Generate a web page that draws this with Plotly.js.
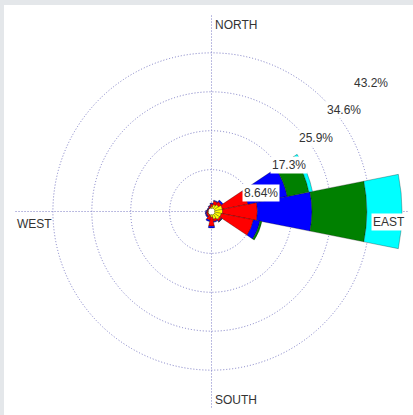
<!DOCTYPE html>
<html>
<head>
<meta charset="utf-8">
<script src="https://cdn.plot.ly/plotly-3.0.1.min.js"></script>
<style>
html,body{margin:0;padding:0;background:#ffffff;}
#chart{width:413px;height:415px;}
</style>
</head>
<body>
<div id="chart"></div>
<script>
// Direction bins (bearing, degrees clockwise from north)
const directions = [0, 22.5, 45, 67.5, 90, 112.5, 135, 157.5, 180, 202.5, 225, 247.5, 270, 292.5, 315, 337.5];
// Frequency (%) per speed class, stacked from the centre outwards
const yellowVals = [0.4, 0.9, 1.2, 1.8, 1.8, 1.55, 1.5, 1.1, 0.6, 0.3, 0.2, 0.2, 0.15, 0.1, 0.1, 0.2];
const redVals    = [0.6, 0.8, 0.8, 5.8, 7.75, 7.3, 0.5, 0.5, 2.0, 1.0, 0.5, 0.4, 0.3, 0.2, 0.2, 0.4];
const blueVals   = [0.2, 0.2, 0.4, 8.9, 12.1, 1.45, 0.15, 0.2, 0.4, 0.3, 0.2, 0.2, 0.2, 0.1, 0.1, 0.1];
const greenVals  = [0, 0, 0, 4.9, 12.2, 0.45, 0.05, 0, 0, 0, 0, 0, 0, 0, 0, 0];
const cyanVals   = [0, 0, 0, 0.8, 7.8, 0, 0, 0, 0, 0, 0, 0, 0, 0, 0, 0];
// Ring values and labels
const ringVals   = [8.64, 17.28, 25.92, 34.56, 43.2];
const ringLabels = ['8.64%', '17.3%', '25.9%', '34.6%', '43.2%'];
const compassAngles = [0, 90, 180, 270];
const compassLabels = ['NORTH', 'EAST', 'SOUTH', 'WEST'];

const series = [
  {name: 'class 1', vals: yellowVals, color: '#ffff00'},
  {name: 'class 2', vals: redVals,    color: '#ff0000'},
  {name: 'class 3', vals: blueVals,   color: '#0000ff'},
  {name: 'class 4', vals: greenVals,  color: '#008000'},
  {name: 'class 5', vals: cyanVals,   color: '#00ffff'}
];

const traces = series.map(s => ({
  type: 'barpolar',
  name: s.name,
  r: s.vals,
  theta: directions,
  width: 22.5,
  marker: {color: s.color, line: {color: 'rgba(0,0,0,0.55)', width: 0.5}},
  hoverinfo: 'skip'
}));

// geometry of the polar area (pixels)
const W = 413, H = 415, cx = 211.5, cy = 211.5, R = 197.5, hole = 0.015, rmax = 43.2;
function toPaper(r, bearing) {
  const rp = R * hole + (r / rmax) * R * (1 - hole);
  const a = bearing * Math.PI / 180;
  return {x: (cx + rp * Math.sin(a)) / W, y: 1 - (cy - rp * Math.cos(a)) / H};
}

const txtFont = {family: 'Liberation Sans, Arial, sans-serif', size: 12, color: '#333333'};
const annotations = [];
ringVals.forEach((v, i) => {
  const p = toPaper(v, 45);
  annotations.push({xref: 'paper', yref: 'paper', x: p.x, y: p.y, text: ringLabels[i],
    showarrow: false, xanchor: 'left', yanchor: 'top', bgcolor: '#ffffff', borderpad: 1,
    font: txtFont, xshift: 1, yshift: -2});
});
const cfg = [
  {xa: 'left',  ya: 'top',    xs: 1,  ys: -2, bg: 'rgba(0,0,0,0)'},
  {xa: 'right', ya: 'top',    xs: -2, ys: -2, bg: '#ffffff'},
  {xa: 'left',  ya: 'bottom', xs: 1,  ys: 0,  bg: 'rgba(0,0,0,0)'},
  {xa: 'left',  ya: 'top',    xs: 1,  ys: -3, bg: 'rgba(0,0,0,0)'}
];
compassAngles.forEach((ang, i) => {
  const p = toPaper(rmax, ang);
  annotations.push({xref: 'paper', yref: 'paper', x: p.x, y: p.y, text: compassLabels[i],
    showarrow: false, xanchor: cfg[i].xa, yanchor: cfg[i].ya, bgcolor: cfg[i].bg, borderpad: 1,
    font: txtFont, xshift: cfg[i].xs, yshift: cfg[i].ys});
});

const gridCol = '#7a7ac4';
const layout = {
  width: W, height: H,
  margin: {l: 0, r: 0, t: 0, b: 0},
  paper_bgcolor: '#ffffff',
  showlegend: false,
  polar: {
    domain: {x: [(cx - R) / W, (cx + R) / W], y: [1 - (cy + R) / H, 1 - (cy - R) / H]},
    bgcolor: '#ffffff',
    hole: hole,
    barmode: 'stack',
    radialaxis: {
      range: [0, rmax], tickvals: ringVals, showticklabels: false, ticks: '',
      showline: false, showgrid: true, gridcolor: gridCol, griddash: '1px,2px', gridwidth: 1
    },
    angularaxis: {
      direction: 'clockwise', rotation: 90, tickvals: compassAngles, showticklabels: false,
      ticks: '', showline: false, showgrid: true, gridcolor: gridCol, griddash: '1px,2px', gridwidth: 1
    }
  },
  annotations: annotations,
  shapes: [
    {type: 'rect', xref: 'paper', yref: 'paper', x0: 0, x1: 4 / W, y0: 0, y1: 1, fillcolor: '#e4e7ea', line: {width: 0}, layer: 'above'},
    {type: 'rect', xref: 'paper', yref: 'paper', x0: 0, x1: 1, y0: 1 - 5 / H, y1: 1, fillcolor: '#e4e7ea', line: {width: 0}, layer: 'above'}
  ]
};

Plotly.newPlot('chart', traces, layout, {displayModeBar: false, staticPlot: true});
</script>
</body>
</html>
